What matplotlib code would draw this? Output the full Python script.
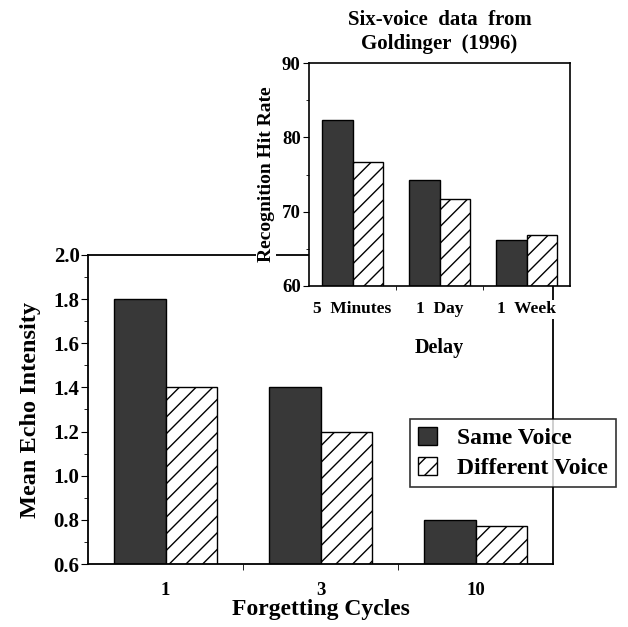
import numpy as np
import matplotlib.pyplot as plt
from matplotlib.ticker import MultipleLocator, FixedLocator
from matplotlib.patches import Patch

# Main panel data
cycles = ['1', '3', '10']
same_echo = [1.80, 1.40, 0.80]
diff_echo = [1.40, 1.20, 0.77]

# Inset data (Goldinger 1996)
delays = ['5  Minutes', '1  Day', '1  Week']
same_hits = [82.3, 74.3, 66.2]
diff_hits = [76.7, 71.7, 66.8]

plt.rcParams['font.family'] = ['Liberation Serif', 'DejaVu Serif']
plt.rcParams['font.weight'] = 'bold'
plt.rcParams['axes.labelweight'] = 'bold'
plt.rcParams['axes.titleweight'] = 'bold'
plt.rcParams['hatch.linewidth'] = 1.0

dark = '#383838'
W, H = 628, 627
fig = plt.figure(figsize=(W / 100, H / 100), dpi=100)

# ---- main axes ----
ax = fig.add_axes([88 / W, 1 - 564 / H, (553 - 88) / W, (564 - 255) / H])
x = np.arange(len(cycles))
bw = 0.335
ax.bar(x - bw / 2, same_echo, bw, color=dark, edgecolor='black', lw=1)
ax.bar(x + bw / 2, diff_echo, bw, color='white', edgecolor='black', lw=1, hatch='//')
ax.set_xlim(-0.5, 2.5)
ax.set_ylim(0.6, 2.0)
ax.set_xticks(x)
ax.set_xticklabels(cycles)
ax.xaxis.set_minor_locator(FixedLocator([0.5, 1.5]))
ax.tick_params(axis='x', which='major', length=0, pad=13, labelsize=13.5)
ax.tick_params(axis='x', which='minor', length=4, direction='out')
ax.yaxis.set_major_locator(MultipleLocator(0.2))
ax.yaxis.set_minor_locator(MultipleLocator(0.1))
ax.set_yticklabels([f'{v:.1f}' for v in ax.get_yticks()])
ax.tick_params(axis='y', which='major', length=5, labelsize=15, pad=1)
ax.tick_params(axis='y', which='minor', length=3)
for s in ax.spines.values():
    s.set_linewidth(1.3)
ax.set_ylabel('Mean Echo Intensity', fontsize=17.5, labelpad=9)
ax.set_xlabel('Forgetting Cycles', fontsize=17, labelpad=0)

# ---- inset axes ----
ins = fig.add_axes([309 / W, 1 - 286 / H, (570 - 309) / W, (286 - 63) / H])
xi = np.arange(len(delays))
bwi = 0.345
ins.bar(xi - bwi / 2, np.array(same_hits) - 60, bwi, bottom=60, color=dark, edgecolor='black', lw=1)
ins.bar(xi + bwi / 2, np.array(diff_hits) - 60, bwi, bottom=60, color='white', edgecolor='black',
        lw=1, hatch='//')
ins.set_xlim(-0.5, 2.5)
ins.set_ylim(60, 90)
ins.set_xticks(xi)
ins.set_xticklabels(delays)
ins.xaxis.set_minor_locator(FixedLocator([0.5, 1.5]))
ins.tick_params(axis='x', which='major', length=0, pad=11, labelsize=12.5)
ins.tick_params(axis='x', which='minor', length=3)
ins.yaxis.set_major_locator(MultipleLocator(10))
ins.yaxis.set_minor_locator(MultipleLocator(5))
ins.tick_params(axis='y', which='major', length=4, labelsize=13.5, pad=2)
ins.tick_params(axis='y', which='minor', length=2.5)
for s in ins.spines.values():
    s.set_linewidth(1.2)
for t in ins.get_xticklabels():
    t.set_bbox(dict(facecolor='white', edgecolor='none', pad=1))
ins.set_ylabel('Recognition Hit Rate', fontsize=14, labelpad=5,
               bbox=dict(facecolor='white', edgecolor='none', pad=1))
ins.set_xlabel('Delay', fontsize=14.5, labelpad=15)
ins.set_title('Six-voice  data  from\nGoldinger  (1996)', fontsize=15, pad=10, linespacing=1.3)

# ---- legend ----
handles = [Patch(facecolor=dark, edgecolor='black', label='Same Voice'),
           Patch(facecolor='white', edgecolor='black', hatch='//', label='Different Voice')]
leg = fig.legend(handles=handles, loc='upper left', bbox_to_anchor=(410 / W, 1 - 419 / H),
                 fontsize=17, frameon=True, fancybox=False, borderaxespad=0,
                 handlelength=0.8, handleheight=0.8, handletextpad=0.85,
                 borderpad=0.35, labelspacing=0.3)
leg.get_frame().set_edgecolor('black')
leg.get_frame().set_linewidth(1.2)

fig.savefig('out.png', dpi=100)
